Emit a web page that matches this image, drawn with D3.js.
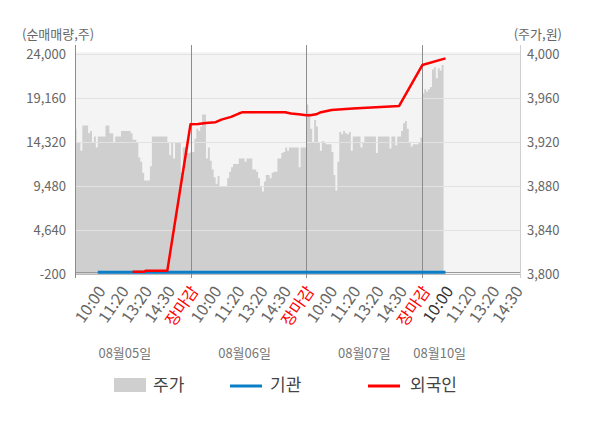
<!DOCTYPE html>
<html><head><meta charset="utf-8">
<script src="https://cdn.jsdelivr.net/npm/d3@7"></script>
<style>
html,body{margin:0;padding:0;background:#fff;}
svg{display:block;font-family:"Noto Sans CJK KR","Noto Sans",sans-serif;}
</style></head>
<body><svg id="c" width="600" height="428"></svg>
<script>
// ---- data ----
const days = ["08월05일","08월06일","08월07일","08월10일"];
const timeLabels = ["10:00","11:20","13:20","14:30","장마감"];
const leftTicks = [-200, 4640, 9480, 14320, 19160, 24000];
const rightTicks = [3800, 3840, 3880, 3920, 3960, 4000];
const pointsPerDay = 60;
// price (주가), one value per time slot, 60 slots per day
const price = [
 3932,3919,3919,3912,3935,3935,3935,3928,3930,3919,3925,3915,3925,3925,3925,3925,3935,3935,3928,3928,
 3919,3925,3925,3925,3930,3930,3930,3930,3930,3928,3922,3922,3919,3906,3902,3892,3885,3885,3885,3898,
 3925,3925,3925,3925,3925,3925,3925,3925,3919,3908,3919,3905,3919,3919,3919,3892,3915,3915,3910,3910,
 3911,3911,3923,3932,3930,3934,3945,3945,3905,3915,3903,3895,3888,3882,3889,3880,3880,3880,3880,3887,
 3893,3897,3900,3900,3900,3905,3905,3905,3902,3905,3905,3905,3895,3895,3893,3887,3880,3875,3884,3890,
 3890,3887,3892,3893,3893,3905,3905,3910,3911,3915,3912,3915,3915,3915,3915,3915,3897,3915,3915,3915,
 3954,3946,3932,3920,3940,3934,3920,3912,3921,3919,3918,3918,3918,3911,3890,3876,3902,3929,3927,3930,
 3928,3927,3929,3912,3925,3925,3925,3925,3915,3920,3925,3925,3925,3925,3925,3925,3910,3925,3925,3925,
 3925,3925,3925,3914,3925,3925,3917,3925,3925,3930,3937,3939,3932,3919,3916,3918,3918,3918,3920,3924,
 3964,3968,3966,3968,3970,3986,3988,3978,3987,3985,3990
];
// 기관 (institutions), slot index and net volume
const instIdx = [12, 60, 120, 180, 192];
const instVal = [0, 0, 0, 0, 0];
// 외국인 (foreigners), slot index and net volume
const forIdx = [30,36,37,48,60,64,68,73,76,81,85,87,109,112,116,120,122,125,127,130,133,144,156,168,180,192];
const forVal = [60,60,170,170,16265,16300,16420,16500,16780,17080,17450,17600,17600,17450,17370,17260,17260,17370,17555,17700,17850,18000,18140,18290,22785,23520];

// ---- layout ----
const svg = d3.select("#c");
const L = 76, R = 520, T = 52, B = 274;
const x = d3.scaleLinear().domain([0, 230]).range([74.6, 518.9]);
const yL = d3.scaleLinear().domain([-200, 24000]).range([274, 54]);
const yR = d3.scaleLinear().domain([3800, 4000]).range([274, 54]);
const gray = "#666";
const fmt = d => d3.format(",")(d).replace("\u2212", "-");

svg.append("defs").append("clipPath").attr("id","clip")
  .append("rect").attr("x", L).attr("y", T).attr("width", R - L).attr("height", B - T);

svg.append("rect").attr("x", L).attr("y", T).attr("width", R - L).attr("height", B - T).attr("fill", "#f4f4f4");

// price area
const pdata = price.map((v, i) => ({i, v}));
pdata.push({i: price.length, v: price[price.length - 1]});
svg.append("path").datum(pdata).attr("clip-path","url(#clip)")
  .attr("fill", "#cfcfcf")
  .attr("d", d3.area().curve(d3.curveStepAfter).x(d => x(d.i)).y0(yR(3800)).y1(d => yR(d.v)));

// gridlines
svg.append("g").selectAll("line").data(leftTicks.slice(1)).join("line")
  .attr("x1", L).attr("x2", R)
  .attr("y1", d => Math.round(yL(d)) + 0.5).attr("y2", d => Math.round(yL(d)) + 0.5)
  .attr("stroke", "#e2e2e2").attr("stroke-width", 1);

// zero line & bottom line
svg.append("line").attr("x1", L).attr("x2", R).attr("y1", Math.round(yL(0)) + 0.5).attr("y2", Math.round(yL(0)) + 0.5)
  .attr("stroke", "#999").attr("stroke-width", 1);
svg.append("line").attr("x1", L).attr("x2", R).attr("y1", B + 0.5).attr("y2", B + 0.5)
  .attr("stroke", "#bbb").attr("stroke-width", 1);

// vertical day separators + left axis
const seps = [0, 60, 120, 180];
svg.append("g").selectAll("line").data(seps).join("line")
  .attr("x1", d => d === 0 ? L - 0.5 : Math.round(x(d)) + 0.5)
  .attr("x2", d => d === 0 ? L - 0.5 : Math.round(x(d)) + 0.5)
  .attr("y1", 45).attr("y2", 278).attr("stroke", "#8c8c8c").attr("stroke-width", 1);
// right axis
svg.append("line").attr("x1", R + 0.5).attr("x2", R + 0.5).attr("y1", 45).attr("y2", 278)
  .attr("stroke", "#cfcfcf").attr("stroke-width", 1);

// lines
const ldata = (idx, val) => idx.map((d, k) => ({i: d, v: val[k]}));
svg.append("path").datum(ldata(instIdx, instVal)).attr("fill","none")
  .attr("stroke", "#0b7ec8").attr("stroke-width", 3)
  .attr("d", d3.line().x(d => x(d.i)).y(d => yL(d.v)));
svg.append("path").datum(ldata(forIdx, forVal)).attr("fill","none")
  .attr("stroke", "#ff0000").attr("stroke-width", 2.5).attr("stroke-linejoin","round")
  .attr("d", d3.line().x(d => x(d.i)).y(d => yL(d.v)));

// left axis labels
svg.append("g").selectAll("text").data(leftTicks).join("text")
  .attr("x", 66).attr("y", d => yL(d)).attr("dy", "0.35em").attr("text-anchor", "end")
  .attr("font-size", 13).attr("fill", gray).text(fmt);
svg.append("g").selectAll("text").data(rightTicks).join("text")
  .attr("x", 527).attr("y", d => yR(d)).attr("dy", "0.35em").attr("text-anchor", "start")
  .attr("font-size", 13).attr("fill", gray).text(fmt);
svg.append("text").attr("x", 22).attr("y", 34).attr("dy","0.35em").attr("font-size", 13).attr("fill", gray).text("(순매매량,주)");
svg.append("text").attr("x", 562).attr("y", 34).attr("dy","0.35em").attr("text-anchor","end").attr("font-size", 13).attr("fill", gray).text("(주가,원)");

// x tick labels
const xt = [];
days.forEach((d, di) => {
  timeLabels.forEach((t, k) => {
    if (di === days.length - 1 && k === timeLabels.length - 1) return;
    xt.push({pos: di * pointsPerDay + (k + 1) * 12, t, close: k === timeLabels.length - 1, cur: di === days.length - 1 && k === 0});
  });
});
svg.append("g").selectAll("text").data(xt).join("text")
  .attr("transform", d => `translate(${x(d.pos) + 4},${288}) rotate(-55)`)
  .attr("text-anchor", "end").attr("dy", "0.35em").attr("font-size", 16)
  .attr("fill", d => d.close ? "#ff0000" : (d.cur ? "#333" : gray)).text(d => d.t);

// date labels
const dateAt = [26, 88, 150, 189];
svg.append("g").selectAll("text").data(days).join("text")
  .attr("x", (d, i) => x(dateAt[i])).attr("y", 353).attr("dy","0.35em").attr("text-anchor","middle")
  .attr("font-size", 13).attr("fill", "#777").text(d => d);

// legend
const lg = svg.append("g");
lg.append("rect").attr("x", 114).attr("y", 378).attr("width", 32).attr("height", 14).attr("fill", "#cfcfcf");
lg.append("text").attr("x", 153).attr("y", 385).attr("dy","0.35em").attr("font-size", 17).attr("fill", "#444").text("주가");
lg.append("line").attr("x1", 230).attr("x2", 262).attr("y1", 386).attr("y2", 386).attr("stroke", "#0b7ec8").attr("stroke-width", 3);
lg.append("text").attr("x", 270).attr("y", 385).attr("dy","0.35em").attr("font-size", 17).attr("fill", "#444").text("기관");
lg.append("line").attr("x1", 368).attr("x2", 400).attr("y1", 386).attr("y2", 386).attr("stroke", "#ff0000").attr("stroke-width", 3);
lg.append("text").attr("x", 410).attr("y", 385).attr("dy","0.35em").attr("font-size", 17).attr("fill", "#444").text("외국인");
</script></body></html>
